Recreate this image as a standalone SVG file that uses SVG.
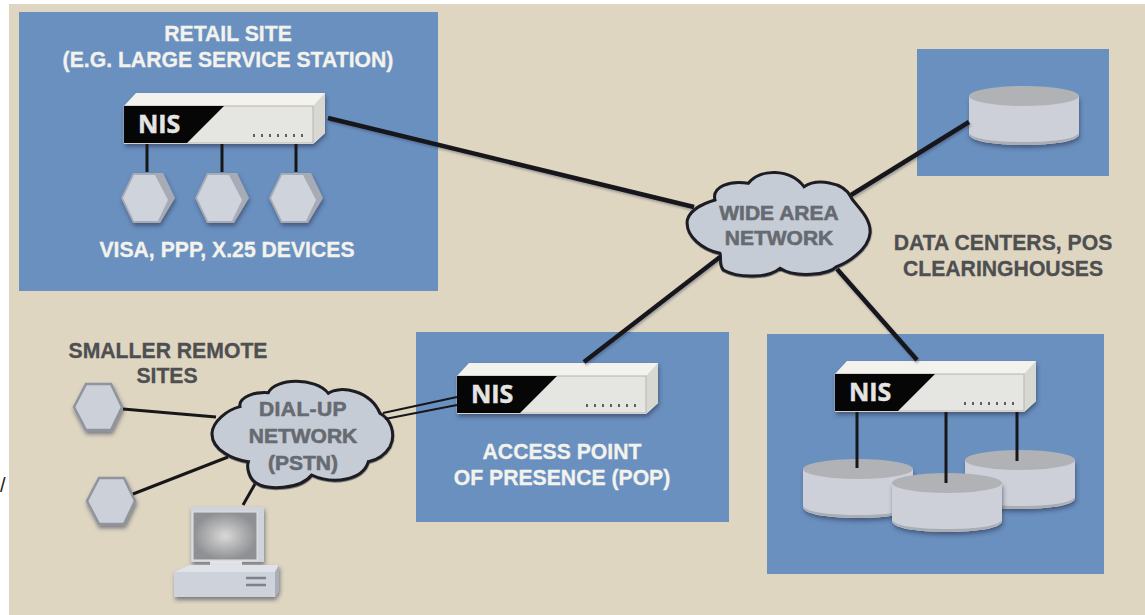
<svg xmlns="http://www.w3.org/2000/svg" width="1145" height="615" viewBox="0 0 1145 615">
<style>
text{font-family:"Liberation Sans",Arial,sans-serif;font-weight:700;text-anchor:middle;font-size:21.2px}
.w{fill:#f3f2ec;stroke:#f3f2ec;stroke-width:.3}
.d{fill:#4e4f50;stroke:#4e4f50;stroke-width:.3}
.c{fill:#666a71;stroke:#666a71;stroke-width:.6;font-size:21px}
.panel{fill:#6a90c0}
.l{fill:none;stroke:#17171a}
.m{stroke-width:4.5;filter:url(#ls)}
.t{stroke-width:3}
.cloud{fill:#c6ccd6;stroke:#1d1d20;stroke-width:9;filter:url(#sh)}
.hex{fill:#ccd0d8;stroke:#8f949e;stroke-width:2.5;filter:url(#sh)}
</style>
<defs>
<filter id="sh" x="-20%" y="-20%" width="140%" height="140%"><feDropShadow dx="1" dy="3" stdDeviation="2" flood-color="#2a3346" flood-opacity=".55"/></filter>
<filter id="ls" x="-5%" y="-5%" width="110%" height="110%"><feDropShadow dx="1" dy="2" stdDeviation="1.2" flood-color="#2a3346" flood-opacity=".35"/></filter>
<radialGradient id="scr"><stop offset="0" stop-color="#d9d9d9"/><stop offset="1" stop-color="#8f9093"/></radialGradient>
<g id="nis">
<path d="M0 13L12 0H201V40L189 51H0Z" fill="#f3f2ed" filter="url(#sh)"/>
<path d="M189 13L201 0V40L189 50Z" fill="#d8d8d3"/>
<rect x="0" y="13" width="189" height="37" fill="#e5e5e1" stroke="#b4b5b2"/>
<path d="M0 13H100L63 50H0Z" fill="#060607"/>
<text x="14" y="40" style="font-size:25px;fill:#e4e4e2;stroke:#e4e4e2;stroke-width:.5;text-anchor:start;font-family:'Open Sans','Liberation Sans',sans-serif">NIS</text>
<path d="M130 41v3M138 41v3M146 41v3M154 41v3M162 41v3M170 41v3M178 41v3" stroke="#3b3f46" stroke-width="1.6"/>
</g>
<g id="blue-hex">
<path d="M-27 0L-15-25H15L27 0L12 25H-15Z" fill="#a6abb5" filter="url(#sh)"/>
<path d="M-25 0L-14-23H7L20 2L10 23H-14Z" fill="#cfd3db"/>
</g>
<g id="disk">
<path d="M-55 0V38C-55 45-30 49 0 49S55 45 55 38V0Z" fill="#cdd0d8" filter="url(#sh)"/>
<path d="M-55 37C-55 45-30 49 0 49S55 45 55 37C52 43 30 46 0 46S-52 43-55 37Z" fill="#a9adb4"/>
<ellipse cx="0" cy="0" rx="55" ry="10" fill="#b0b2b5"/>
</g>
</defs>

<rect id="page" x="0" y="0" width="1145" height="615" fill="#fff"/>
<rect id="bg" x="9" y="4" width="1136" height="611" fill="#dfd6c2"/>
<text x="0" y="492" style="font-weight:400;font-size:20px;fill:#222;text-anchor:start;stroke:none">/</text>

<g id="panels">
<rect class="panel" x="19" y="12" width="419" height="279"/>
<rect class="panel" x="917" y="49" width="192" height="127"/>
<rect class="panel" x="416" y="332" width="313" height="190"/>
<rect class="panel" x="767" y="334" width="337" height="240"/>
</g>

<g id="retail-site">
<text class="w" x="228" y="41">RETAIL SITE</text>
<text class="w" x="228" y="67">(E.G. LARGE SERVICE STATION)</text>
<use href="#nis" x="124" y="93"/>
<use href="#blue-hex" x="148" y="198"/>
<use href="#blue-hex" x="222" y="198"/>
<use href="#blue-hex" x="296" y="198"/>
<text class="w" x="227" y="257">VISA, PPP, X.25 DEVICES</text>
</g>

<g id="wan">
<g transform="translate(680 40) scale(.3333)">
<path class="cloud" d="M105 480C95 440 150 420 205 430C240 385 330 385 372 440C410 415 490 425 512 470C520 490 575 530 570 580C565 630 500 670 470 680C445 705 345 715 300 685C265 715 175 715 130 690C115 670 125 650 120 640C70 630 15 590 22 540C30 510 70 490 105 480Z"/>
</g>
<text class="c" x="779" y="220">WIDE AREA</text>
<text class="c" x="779" y="245">NETWORK</text>
</g>

<g id="data-center-top">
<use href="#disk" x="1024" y="96"/>
</g>

<text class="d" x="1003" y="250">DATA CENTERS, POS</text>
<text class="d" x="1003" y="276">CLEARINGHOUSES</text>

<g id="data-center-bottom">
<use href="#nis" x="835" y="361"/>
<use href="#disk" x="858" y="469"/>
<use href="#disk" x="1020" y="460"/>
<use href="#disk" x="947" y="483"/>
</g>

<g id="pop">
<use href="#nis" x="457" y="363"/>
<text class="w" x="562" y="459">ACCESS POINT</text>
<text class="w" x="562" y="485">OF PRESENCE (POP)</text>
</g>

<g id="dialup">
<g transform="translate(200 350) scale(.3333)">
<path class="cloud" d="M120 170C115 140 165 125 205 128C225 85 345 80 385 130C420 105 510 120 540 190C570 205 590 250 570 290C555 315 530 330 505 335C490 390 400 405 335 375C300 420 200 420 170 400C145 385 140 350 145 335C100 330 35 300 36 250C38 215 80 180 120 170Z"/>
</g>
<text class="c" x="303" y="416" style="letter-spacing:.4px">DIAL-UP</text>
<text class="c" x="303" y="443">NETWORK</text>
<text class="c" x="303" y="470">(PSTN)</text>
</g>

<g id="remote-sites">
<text class="d" x="168" y="358">SMALLER REMOTE</text>
<text class="d" x="167" y="383">SITES</text>
<path class="hex" d="M74 407L86 384H111L122 407L111 430H86Z"/>
<path class="hex" d="M87 501L99 478H124L135 501L124 524H99Z"/>
</g>

<g id="computer">
<path d="M191 507H264V562H191Z" fill="#cfd3db" filter="url(#sh)"/>
<rect x="193" y="512" width="64" height="48" fill="url(#scr)" stroke="#e2e3e7"/>
<rect x="210" y="561" width="32" height="6" fill="#e3e4e8"/>
<path d="M174 572L190 565H279V590L275 597H174Z" fill="#cdd2db" filter="url(#sh)"/>
<path d="M174 572L190 565H279L275 572Z" fill="#dfe2e8"/>
<path d="M275 572L279 565V590L275 597Z" fill="#a9aeb8"/>
<path d="M246 578H266M246 585H266" stroke="#7d8189" stroke-width="2.5"/>
</g>

<g id="connectors">
<path class="l m" d="M328 118L694 207"/>
<path class="l m" d="M851 195L969 122"/>
<path class="l m" d="M720 257L584 362"/>
<path class="l m" d="M837 269L917 360"/>
<path class="l t" d="M147 144V172M222 144V172M296 144V172"/>
<path class="l t" d="M857 412V468M946 412V483M1017 412V461"/>
<path class="l t" d="M123 409L216 417"/>
<path class="l t" d="M133 494L228 457"/>
<path class="l t" d="M243 505L255 484"/>
<path class="l" stroke-width="2.2" d="M383 413L457 397"/>
<path class="l" stroke-width="2.2" d="M385 419L457 405"/>
</g>
</svg>
